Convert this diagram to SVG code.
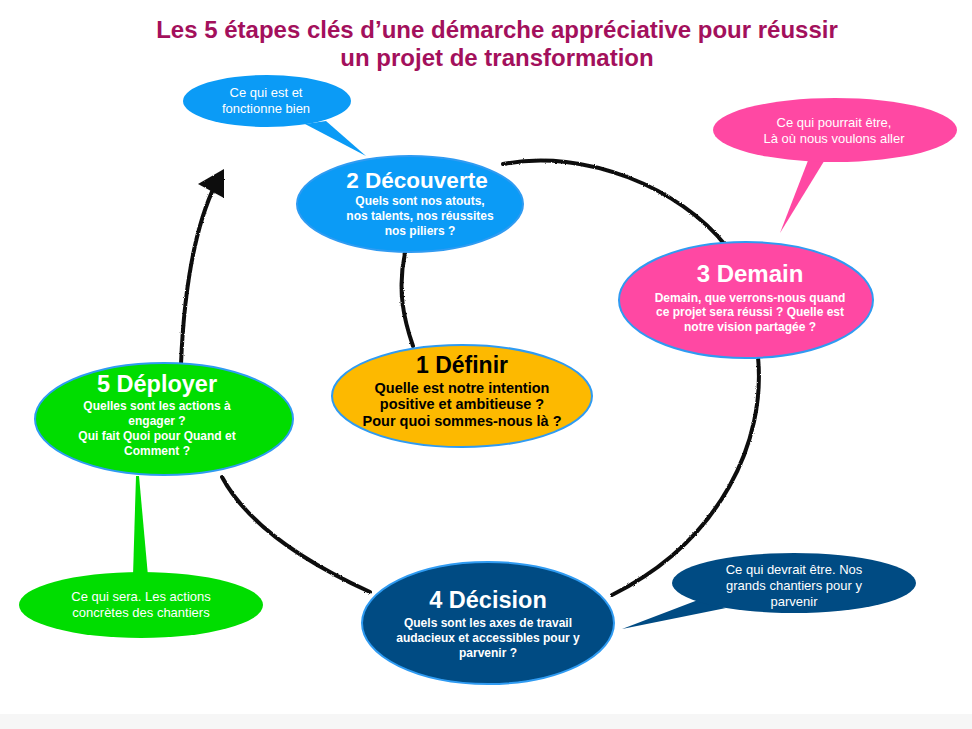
<svg xmlns="http://www.w3.org/2000/svg" width="972" height="729" viewBox="0 0 972 729">
<defs>
<filter id="chalk" x="-5%" y="-5%" width="110%" height="110%">
<feTurbulence type="fractalNoise" baseFrequency="0.9" numOctaves="2" seed="3"/>
<feDisplacementMap in="SourceGraphic" scale="2.2" xChannelSelector="R" yChannelSelector="G"/>
</filter>
</defs>
<style>
.title{font-family:"Liberation Sans",Arial,sans-serif;font-weight:bold;font-size:24px;fill:#A3105C;text-anchor:middle}
.conn{fill:none;stroke:#111;stroke-width:4;stroke-linecap:round}
.node{stroke:#2F9BF2;stroke-width:2}
.h{font-family:"Liberation Sans",Arial,sans-serif;font-weight:bold;text-anchor:middle}
.s{font-family:"Liberation Sans",Arial,sans-serif;font-weight:bold;font-size:12px;text-anchor:middle}
.c{font-family:"Liberation Sans",Arial,sans-serif;font-size:13px;fill:#fff;text-anchor:middle}
.w{fill:#fff}
.blue{fill:#0B9BF6}
.pink{fill:#FF48A3}
.orange{fill:#FDB900}
.green{fill:#00DD00}
.navy{fill:#004B83}
</style>
<rect width="972" height="729" fill="#fff"/>
<rect x="0" y="714" width="972" height="15" fill="#f6f6f6"/>

<g id="title">
<text class="title" x="497" y="38">Les 5 étapes clés d’une démarche appréciative pour réussir</text>
<text class="title" x="497" y="66">un projet de transformation</text>
</g>

<g id="connectors" filter="url(#chalk)">
<path class="conn" d="M503,164 C585,148 680,188 726,246"/>
<path class="conn" d="M758,357 C766,440 722,540 612,595"/>
<path class="conn" d="M370,592 C300,560 246,522 222,477"/>
<path class="conn" d="M405,253 C397,290 404,320 413,346"/>
<path class="conn" d="M181,364 C184,290 194,228 216,183"/>
<polygon points="224,169 198,184 224,198" fill="#111"/>
</g>

<g id="callout-decouverte">
<polygon class="blue" points="305,124 326,121 366,156"/>
<ellipse class="blue" cx="267" cy="101" rx="84" ry="26"/>
<text class="c" x="266" y="97">Ce qui est et</text>
<text class="c" x="266" y="113">fonctionne bien</text>
</g>

<g id="callout-demain">
<polygon class="pink" points="809,158 826,158 780,233"/>
<ellipse class="pink" cx="835" cy="130" rx="122" ry="32"/>
<text class="c" x="834" y="127">Ce qui pourrait être,</text>
<text class="c" x="834" y="143">Là où nous voulons aller</text>
</g>

<g id="callout-deployer">
<polygon class="green" points="136,476 139,476 148,576 133,576"/>
<ellipse class="green" cx="141" cy="605" rx="122" ry="33"/>
<text class="c" x="141" y="601">Ce qui sera. Les actions</text>
<text class="c" x="141" y="617">concrètes des chantiers</text>
</g>

<g id="callout-decision">
<polygon class="navy" points="698,600 726,608 622,629"/>
<ellipse class="navy" cx="794" cy="583" rx="122" ry="30"/>
<text class="c" x="794" y="574">Ce qui devrait être. Nos</text>
<text class="c" x="794" y="590">grands chantiers pour y</text>
<text class="c" x="794" y="606">parvenir</text>
</g>

<g id="node-2-decouverte">
<ellipse class="node blue" cx="410" cy="204" rx="113" ry="48" stroke="#1C74C8"/>
<text class="h w" x="417" y="188" font-size="22.5">2 Découverte</text>
<text class="s w" x="420" y="205">Quels sont nos atouts,</text>
<text class="s w" x="420" y="220">nos talents, nos réussites</text>
<text class="s w" x="420" y="235">nos piliers ?</text>
</g>

<g id="node-3-demain">
<ellipse class="node pink" cx="746" cy="300" rx="127" ry="58"/>
<text class="h w" x="750" y="282" font-size="24">3 Demain</text>
<text class="s w" x="750" y="302">Demain, que verrons-nous quand</text>
<text class="s w" x="750" y="316">ce projet sera réussi ? Quelle est</text>
<text class="s w" x="750" y="331">notre vision partagée ?</text>
</g>

<g id="node-1-definir">
<ellipse class="node orange" cx="462" cy="396" rx="130" ry="51"/>
<text class="h" x="462" y="373" font-size="23" fill="#000">1 Définir</text>
<text class="h" x="462" y="393" font-size="14.5" fill="#000">Quelle est notre intention</text>
<text class="h" x="462" y="409" font-size="14.5" fill="#000">positive et ambitieuse ?</text>
<text class="h" x="462" y="426" font-size="14.5" fill="#000">Pour quoi sommes-nous là ?</text>
</g>

<g id="node-5-deployer">
<ellipse class="node green" cx="164" cy="419" rx="129" ry="56"/>
<text class="h w" x="157" y="392" font-size="23.5">5 Déployer</text>
<text class="s w" x="157" y="410">Quelles sont les actions à</text>
<text class="s w" x="157" y="425">engager ?</text>
<text class="s w" x="157" y="440">Qui fait Quoi pour Quand et</text>
<text class="s w" x="157" y="455">Comment ?</text>
</g>

<g id="node-4-decision">
<ellipse class="node navy" cx="488" cy="623" rx="126" ry="61"/>
<text class="h w" x="488" y="608" font-size="23.5">4 Décision</text>
<text class="s w" x="488" y="627">Quels sont les axes de travail</text>
<text class="s w" x="488" y="642">audacieux et accessibles pour y</text>
<text class="s w" x="488" y="657">parvenir ?</text>
</g>
</svg>
